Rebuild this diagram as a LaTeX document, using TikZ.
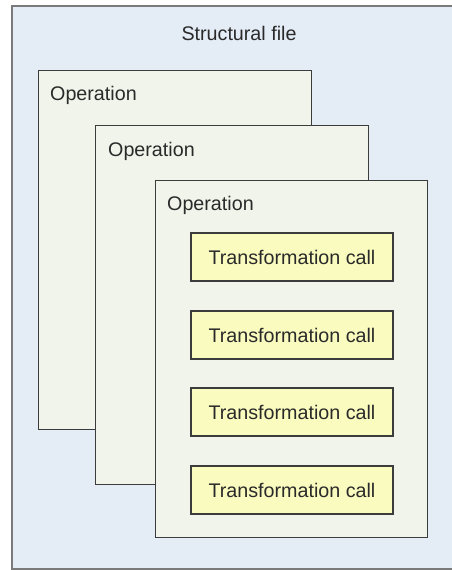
\documentclass[tikz,border=0pt]{standalone}
\usepackage{fontspec}
\setmainfont{Liberation Sans}
\definecolor{filebg}{HTML}{E4ECF5}
\definecolor{fileline}{HTML}{7A7A7A}
\definecolor{opbg}{HTML}{F1F4EA}
\definecolor{callbg}{HTML}{FAFBBE}
\definecolor{boxline}{HTML}{3C3C3C}
\definecolor{txt}{HTML}{2A2A2A}
\tikzset{
  filebox/.style={draw=fileline, line width=1.5pt, fill=filebg, rectangle, inner sep=0pt, anchor=north west},
  opbox/.style={draw=boxline, line width=1.3pt, fill=opbg, rectangle, inner sep=0pt, anchor=north west,
    minimum width=273pt, minimum height=359pt},
  callbox/.style={draw=boxline, line width=1.2pt, fill=callbg, rectangle, inner sep=0pt,
    minimum width=202pt, minimum height=48pt, text=txt, font=\fontsize{19.7}{24}\selectfont},
  label/.style={text=txt, font=\fontsize{19.7}{24}\selectfont, inner sep=0pt},
}
\begin{document}
\begin{tikzpicture}[x=1pt, y=-1pt]
\useasboundingbox (0,0) rectangle (452,570);
% structural file frame
\node[filebox, minimum width=460pt, minimum height=563pt] (file) at (11,5) {};
\node[label] (filetitle) at (239,33) {Structural file};
% stacked operations
\node[opbox] (op1) at (38,70) {};
\node[label, anchor=base west] (op1t) at (50,100) {Operation};
\node[opbox] (op2) at (95,125) {};
\node[label, anchor=base west] (op2t) at (108,156) {Operation};
\node[opbox, minimum width=272pt, minimum height=357pt] (op3) at (155,180) {};
\node[label, anchor=base west] (op3t) at (167,210) {Operation};
% transformation calls
\node[callbox] (c1) at (292,257) {Transformation call};
\node[callbox] (c2) at (292,335) {Transformation call};
\node[callbox] (c3) at (292,412) {Transformation call};
\node[callbox] (c4) at (292,490) {Transformation call};
\end{tikzpicture}
\end{document}
